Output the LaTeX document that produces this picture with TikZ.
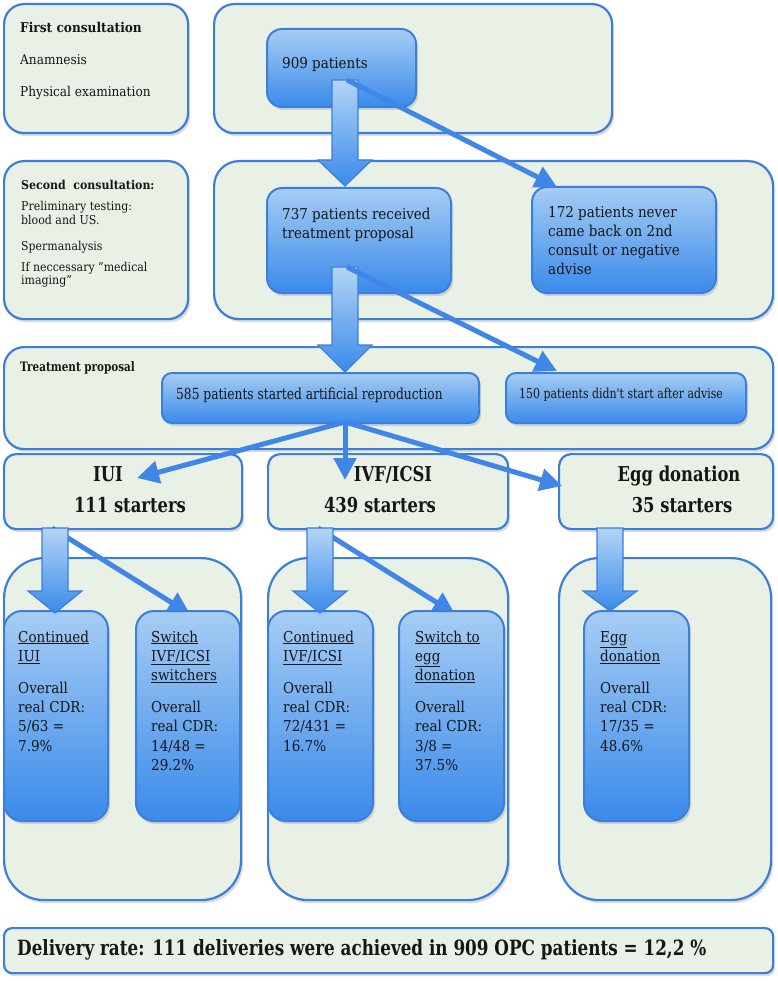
\documentclass[tikz,border=0pt]{standalone}
\usepackage{fontspec}
\setmainfont{DejaVu Serif}[FakeStretch=0.9]
\newfontfamily\condfont{DejaVu Serif}[FakeStretch=0.8]
\usetikzlibrary{shadows,arrows.meta}
\definecolor{outerfill}{RGB}{233,241,231}
\definecolor{bordercol}{RGB}{60,126,220}
\definecolor{bluetop}{RGB}{166,205,244}
\definecolor{bluebot}{RGB}{58,138,234}
\definecolor{arrowcol}{RGB}{63,134,230}
\definecolor{txt}{RGB}{22,22,22}
\newcommand\blockarr[4]{\path[blockarrow] (#1-13,#2) -- (#1+13,#2) -- (#1+13,#3) -- (#1+27,#3) -- (#1,#4) -- (#1-27,#3) -- (#1-13,#3) -- cycle;}
\newcommand\ml[1]{\begin{tabular}[t]{@{}l@{}}#1\end{tabular}}
\begin{document}
\begin{tikzpicture}[x=1pt,y=-1pt,
  shad/.style={drop shadow={shadow xshift=2pt,shadow yshift=-3pt,opacity=0.28}},
  outerbox/.style={draw=bordercol, line width=2.2pt, fill=outerfill, rounded corners=20pt, inner sep=0pt, anchor=north west, shad},
  bluebox/.style={draw=bordercol, line width=2pt, top color=bluetop, bottom color=bluebot, rounded corners=15pt, inner sep=0pt, anchor=north west, shad},
  thinarrow/.style={draw=arrowcol, line width=5pt, -{Triangle[length=22pt,width=22pt]}},
  blockarrow/.style={draw=bordercol, line width=1.2pt, top color=bluetop!85!white, bottom color=bluebot},
  lbl/.style={text=txt, inner sep=0pt, anchor=base west},
  clbl/.style={text=txt, inner sep=0pt, anchor=base},
  fA/.style={font=\fontsize{13.5}{16}\selectfont},
  fC/.style={font=\fontsize{12.2}{13.5}\selectfont},
  fB/.style={font=\fontsize{15}{19}\selectfont},
  fD/.style={font=\fontsize{15}{19.3}\selectfont},
  fS/.style={font=\condfont\bfseries\fontsize{20.5}{24}\selectfont},
]
\useasboundingbox (0,0) rectangle (777,981);
\fill[white] (0,0) rectangle (777,981);

% ---------- outer boxes ----------
\node[outerbox, minimum width=184pt, minimum height=129pt] (boxA) at (3,3) {};
\node[outerbox, minimum width=398pt, minimum height=129pt] (boxB) at (213,3) {};
\node[outerbox, minimum width=184pt, minimum height=158pt] (boxC) at (3,160) {};
\node[outerbox, rounded corners=25pt, minimum width=559pt, minimum height=158pt] (boxD) at (213,160) {};
\node[outerbox, minimum width=769pt, minimum height=102pt] (boxE) at (3,346) {};
\node[outerbox, rounded corners=12pt, minimum width=238pt, minimum height=75pt] (iui) at (3,453) {};
\node[outerbox, rounded corners=12pt, minimum width=240pt, minimum height=75pt] (ivf) at (267,453) {};
\node[outerbox, rounded corners=12pt, minimum width=214pt, minimum height=75pt] (egg) at (558,453) {};
\node[outerbox, rounded corners=40pt, minimum width=237pt, minimum height=342pt] (gIUI) at (3,557) {};
\node[outerbox, rounded corners=40pt, minimum width=240pt, minimum height=342pt] (gIVF) at (267,557) {};
\node[outerbox, rounded corners=40pt, minimum width=212pt, minimum height=342pt] (gEGG) at (558,557) {};
\node[outerbox, rounded corners=8pt, minimum width=769pt, minimum height=45pt] (deliv) at (3,927) {};

% ---------- thin arrows hidden partly under switch boxes ----------
\coordinate (sI) at (52,528);
\coordinate (eI) at (190,614);
\coordinate (sV) at (318,528);
\coordinate (eV) at (455,614);
\draw[thinarrow] (sI) -- (eI);
\draw[thinarrow] (sV) -- (eV);

% ---------- blue boxes ----------
\node[bluebox, minimum width=149pt, minimum height=78pt] (b909) at (266,28) {};
\node[bluebox, minimum width=184pt, minimum height=105pt] (b737) at (266,187) {};
\node[bluebox, minimum width=184pt, minimum height=106pt] (b172) at (531,186) {};
\node[bluebox, rounded corners=10pt, minimum width=317pt, minimum height=50pt] (b585) at (161,372) {};
\node[bluebox, rounded corners=10pt, minimum width=240pt, minimum height=50pt] (b150) at (505,372) {};
\node[bluebox, rounded corners=18pt, minimum width=104pt, minimum height=210pt] (cI) at (3,610) {};
\node[bluebox, rounded corners=18pt, minimum width=104pt, minimum height=210pt] (sw1) at (135,610) {};
\node[bluebox, rounded corners=18pt, minimum width=105pt, minimum height=210pt] (cV) at (267,610) {};
\node[bluebox, rounded corners=18pt, minimum width=105pt, minimum height=210pt] (sw2) at (398,610) {};
\node[bluebox, rounded corners=18pt, minimum width=105pt, minimum height=210pt] (cE) at (583,610) {};

% ---------- block arrows ----------
\blockarr{345}{80}{160}{186}
\blockarr{345}{267}{345}{372}
\blockarr{55}{528}{591}{613}
\blockarr{320}{528}{591}{613}
\blockarr{610}{528}{591}{611}

% ---------- thin arrows ----------
\coordinate (s1) at (347,80);
\coordinate (e1) at (557,187);
\coordinate (s2) at (347,267);
\coordinate (e2) at (557,371);
\coordinate (s3) at (345,422);
\coordinate (eIUI) at (137,478);
\coordinate (eIVF) at (345,480);
\coordinate (eEGG) at (562,486);
\draw[thinarrow] (s1) -- (e1);
\draw[thinarrow] (s2) -- (e2);
\draw[thinarrow] (s3) -- (eIUI);
\draw[thinarrow] (s3) -- (eIVF);
\draw[thinarrow] (s3) -- (eEGG);

% ---------- texts: left column ----------
\node[lbl, font=\bfseries\fontsize{13.5}{16}\selectfont] (tA1) at (20,33) {First consultation};
\node[lbl, fA] (tA2) at (20,65) {Anamnesis};
\node[lbl, fA] (tA3) at (20,97) {Physical examination};
\node[lbl, font=\bfseries\fontsize{12.2}{13.5}\selectfont] (tC1) at (21,190) {Second\ \ consultation:};
\node[lbl, fC] (tC2) at (21,211) {\ml{Preliminary testing:\\blood and US.\\[12.5pt]Spermanalysis\\[7.5pt]If neccessary "medical\\imaging"}};

% ---------- texts: blue boxes top ----------
\node[lbl, fB] (t909) at (282,69) {909 patients};
\node[lbl, fB] (t737) at (282,220) {\ml{737 patients received\\treatment proposal}};
\node[lbl, fB] (t172) at (548,218) {\ml{172 patients never\\came back on 2nd\\consult or negative\\advise}};

% ---------- treatment proposal row ----------
\node[lbl, font=\condfont\bfseries\fontsize{13}{15}\selectfont] (tE) at (20,371) {Treatment proposal};
\node[lbl, font=\condfont\fontsize{15.3}{18}\selectfont] (t585) at (176,399) {585 patients started artificial reproduction};
\node[lbl, font=\condfont\fontsize{13.7}{16}\selectfont] (t150) at (519,398) {150 patients didn't start after advise};

% ---------- starters ----------
\node[clbl, fS] (tIUI1) at (108,481) {IUI};
\node[clbl, fS] (tIUI2) at (130,512) {111 starters};
\node[clbl, fS] (tIVF1) at (393,481) {IVF/ICSI};
\node[clbl, fS] (tIVF2) at (380,512) {439 starters};
\node[clbl, fS] (tEGG1) at (679,481) {Egg donation};
\node[clbl, fS] (tEGG2) at (682,512) {35 starters};

% ---------- CDR boxes ----------
\node[lbl, fD] (tcI) at (18,642) {\ml{\underline{Continued}\\\underline{IUI}\\[12.7pt]Overall\\real CDR:\\5/63 =\\7.9\%}};
\node[lbl, fD] (tsw1) at (151,642) {\ml{\underline{Switch}\\\underline{IVF/ICSI}\\\underline{switchers}\\[12.7pt]Overall\\real CDR:\\14/48 =\\29.2\%}};
\node[lbl, fD] (tcV) at (283,642) {\ml{\underline{Continued}\\\underline{IVF/ICSI}\\[12.7pt]Overall\\real CDR:\\72/431 =\\16.7\%}};
\node[lbl, fD] (tsw2) at (415,642) {\ml{\underline{Switch to}\\\underline{egg}\\\underline{donation}\\[12.7pt]Overall\\real CDR:\\3/8 =\\37.5\%}};
\node[lbl, fD] (tcE) at (600,642) {\ml{\underline{Egg}\\\underline{donation}\\[12.7pt]Overall\\real CDR:\\17/35 =\\48.6\%}};

% ---------- delivery ----------
\node[lbl, font=\condfont\bfseries\fontsize{21}{24}\selectfont] (tdel) at (17,955) {Delivery rate: 111 deliveries were achieved in 909 OPC patients = 12,2 \%};
\end{tikzpicture}
\end{document}
